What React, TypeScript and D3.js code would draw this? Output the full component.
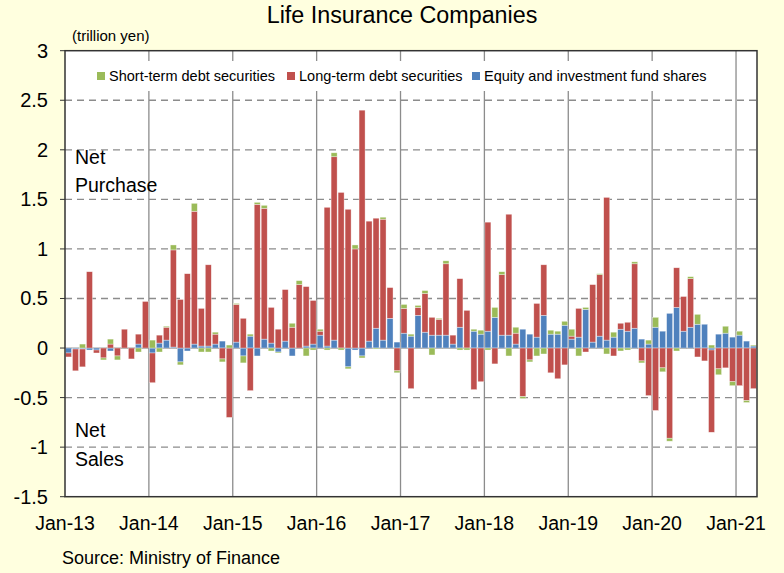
import React from 'react';
import * as d3 from 'd3';

const years = ['13', '14', '15', '16', '17', '18', '19', '20', '21'];
const monthNames = ['Jan', 'Feb', 'Mar', 'Apr', 'May', 'Jun', 'Jul', 'Aug', 'Sep', 'Oct', 'Nov', 'Dec'];
const categories: string[] = [];
years.forEach((yy, i) => {
  const n = i === years.length - 1 ? 3 : 12;
  for (let m = 0; m < n; m++) categories.push(`${monthNames[m]}-${yy}`);
});
const tickLabels = years.map((yy) => `Jan-${yy}`);
const yTicks = [3, 2.5, 2, 1.5, 1, 0.5, 0, -0.5, -1, -1.5];

const seriesNames = ['Short-term debt securities', 'Long-term debt securities', 'Equity and investment fund shares'];

const shortTerm = [
  0, 0, 0.04, 0, 0, -0.02, 0.05, -0.04, 0, 0, -0.04, 0,
  0.08, -0.04, 0.01, 0.05, -0.03, 0, 0.08, -0.04, -0.04, 0.02, -0.03, 0.03,
  0.01, -0.07, 0.02, 0.02, 0.03, -0.03, -0.01, 0, 0.04, 0.04, -0.08, -0.02,
  0.02, -0.02, 0.04, -0.02, -0.02, 0.04, -0.02, 0, -0.01, 0.02, 0, -0.02,
  0.04, 0.02, 0.02, 0.03, -0.07, 0.01, 0.03, 0, -0.02, -0.02, 0.02, 0.04,
  -0.02, 0.10, 0.03, -0.08, 0.06, -0.02, -0.02, -0.08, -0.06, 0.04, 0.03, 0.04,
  0.07, -0.08, 0.02, 0, 0.01, -0.06, 0.05, -0.03, -0.02, 0.02, -0.02, 0.04,
  0.10, -0.04, -0.03, -0.03, 0, 0.02, 0.10, 0, 0.03, -0.06, 0.07, -0.04,
  0.04, -0.02, 0.01,
];
const longTerm = [
  -0.04, -0.22, -0.18, 0.77, -0.03, -0.10, 0.04, -0.08, 0.19, -0.11, 0.10, 0.47,
  -0.30, 0.08, 0.13, 0.98, 0.49, 0.75, 1.34, 0.38, 0.82, 0.10, -0.11, -0.70,
  0.38, 0.30, -0.43, 1.45, 1.32, 0.36, 0.19, 0.52, 0.21, 0.64, 0.60, 0.44,
  0.04, 1.40, 1.85, 1.57, 1.40, 1.00, 2.40, 1.21, 1.11, 1.22, 0.31, -0.23,
  0.25, -0.41, 0.08, 0.39, 0.18, 0.16, 0.72, 0.09, 0.49, 0.38, -0.42, -0.34,
  1.10, -0.16, 0.61, 1.22, 0.11, -0.49, -0.12, 0.34, 0.51, -0.25, -0.31, -0.17,
  0.03, 0.29, -0.04, 0.58, 0.62, 1.44, -0.08, 0.06, 0.09, 0.65, -0.13, -0.48,
  -0.63, -0.20, -0.91, 0.40, 0.35, 0.49, -0.09, -0.13, -0.83, -0.21, -0.20, -0.34,
  -0.38, -0.53, -0.41,
];
const equity = [
  -0.05, -0.01, -0.01, -0.02, -0.02, 0, -0.03, 0, 0, 0, 0.04, 0,
  -0.05, 0.05, 0.08, 0.01, -0.14, -0.03, 0.04, 0.02, 0.02, 0.04, 0.07, 0,
  0.06, -0.08, 0.12, -0.08, 0.09, 0.05, -0.04, 0.07, -0.08, 0, 0.02, 0.04,
  0.13, 0.02, 0.08, 0, -0.19, -0.02, -0.08, 0.07, 0.20, 0.08, 0.30, 0.06,
  0.15, 0.12, 0.33, 0.16, 0.13, 0.13, 0.13, 0.04, 0.21, 0, 0.17, 0.14,
  0.17, 0.31, 0.13, 0.13, 0.04, 0.19, 0.14, 0.11, 0.33, 0.14, 0.14, 0.23,
  0.09, 0.11, 0.39, 0.06, 0.12, 0.08, 0.11, 0.19, 0.17, 0.20, 0.09, 0.04,
  0.21, 0.17, 0.35, 0.41, 0.17, 0.21, 0.24, 0.24, -0.02, 0.14, 0.15, 0.11,
  0.13, 0.07, 0.02,
];

const colors: Record<string, string> = {
  short: '#9BBB59',
  long: '#C0504D',
  equity: '#4F81BD',
};

const W = 784;
const H = 573;
const L = 65;
const R = 757;
const T = 50.7;
const B = 496.7;
const FONT = 'Liberation Sans, Arial, sans-serif';

export default function App() {
  const rows = categories.map((c, i) => ({ cat: c, short: shortTerm[i], long: longTerm[i], equity: equity[i] }));
  const stack = d3
    .stack<any>()
    .keys(['equity', 'long', 'short'])
    .offset(d3.stackOffsetDiverging);
  const layers = stack(rows);

  const pad = 0.14;
  const x = d3.scaleBand<string>().domain(categories).range([L, R]).paddingInner(pad).paddingOuter(pad / 2);
  const y = d3.scaleLinear().domain([-1.5, 3]).range([B, T]);
  const step = x.step();
  const slotStart = (c: string) => (x(c) as number) - (step * pad) / 2;

  const legendItems = [
    { key: 'short', name: seriesNames[0], sx: 97 },
    { key: 'long', name: seriesNames[1], sx: 287 },
    { key: 'equity', name: seriesNames[2], sx: 472 },
  ];

  return (
    <svg width={W} height={H} style={{ position: 'absolute', left: 0, top: 0 }} fontFamily={FONT}>
      <rect x={0} y={0} width={W} height={H} fill="#FFFFDF" />
      <rect x={L} y={T} width={R - L} height={B - T} fill="#ffffff" />
      {yTicks
        .filter((t) => t !== 3 && t !== -1.5 && t !== 0)
        .map((t) => (
          <line key={'g' + t} x1={L} x2={R} y1={y(t)} y2={y(t)} stroke="#8c8c8c" strokeWidth={1.3} strokeDasharray="7,5" />
        ))}
      {tickLabels.slice(1).map((t) => (
        <line key={'v' + t} x1={slotStart(t)} x2={slotStart(t)} y1={T} y2={B} stroke="#8c8c8c" strokeWidth={1.3} />
      ))}
      <rect x={90} y={61} width={627} height={30} fill="#ffffff" />
      <line x1={L} x2={R} y1={y(0)} y2={y(0)} stroke="#8c8c8c" strokeWidth={1.3} />
      {layers.map((layer) => (
        <g key={layer.key} fill={colors[layer.key]}>
          {layer.map((d: any, i: number) => {
            const y0 = y(d[0]);
            const y1 = y(d[1]);
            const h = Math.abs(y0 - y1);
            if (h < 0.01) return null;
            return (
              <rect
                key={i}
                x={x(categories[i])}
                y={Math.min(y0, y1)}
                width={x.bandwidth()}
                height={h}
                stroke="#ffffff"
                strokeOpacity={0.6}
                strokeWidth={0.6}
              />
            );
          })}
        </g>
      ))}
      <rect x={L} y={T} width={R - L} height={B - T} fill="none" stroke="#333333" strokeWidth={1.5} />
      {yTicks.map((t) => (
        <g key={'yt' + t}>
          <line x1={L - 5} x2={L} y1={y(t)} y2={y(t)} stroke="#333333" strokeWidth={1} />
          <text x={48} y={y(t)} dy="0.35em" textAnchor="end" fontSize={20} fill="#000">
            {t}
          </text>
        </g>
      ))}
      {tickLabels.map((t) => (
        <text key={'xt' + t} x={slotStart(t)} y={530} textAnchor="middle" fontSize={19.5} fill="#000">
          {t}
        </text>
      ))}
      {legendItems.map((it) => (
        <g key={it.key}>
          <rect x={it.sx} y={72} width={8} height={8} fill={colors[it.key]} />
          <text x={it.sx + 12} y={81} fontSize={14.5} fill="#000">
            {it.name}
          </text>
        </g>
      ))}
      <text x={402} y={23} textAnchor="middle" fontSize={23.3} fill="#000">
        Life Insurance Companies
      </text>
      <text x={72} y={41} fontSize={15} fill="#000">
        (trillion yen)
      </text>
      <text x={75} y={164} fontSize={19.5} fill="#000">Net</text>
      <text x={75} y={192} fontSize={19.5} fill="#000">Purchase</text>
      <text x={75} y={437} fontSize={19.5} fill="#000">Net</text>
      <text x={75} y={466} fontSize={19.5} fill="#000">Sales</text>
      <text x={62} y={564} fontSize={18} fill="#000">
        Source: Ministry of Finance
      </text>
    </svg>
  );
}
